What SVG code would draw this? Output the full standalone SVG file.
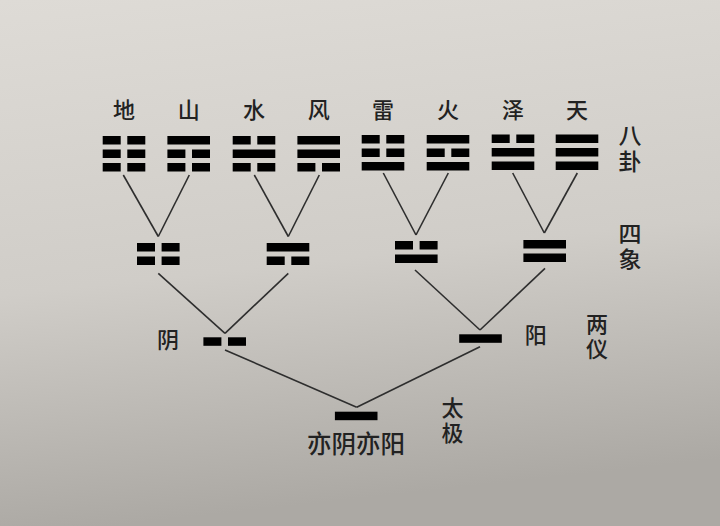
<svg xmlns="http://www.w3.org/2000/svg" width="720" height="526" viewBox="0 0 720 526">
<defs>
<linearGradient id="bg" x1="0" y1="0" x2="0.15" y2="1">
<stop offset="0" stop-color="#dedbd6"/>
<stop offset="0.55" stop-color="#d0cdc8"/>
<stop offset="1" stop-color="#aca9a4"/>
</linearGradient>
<g id="solid3"><rect x="-21.3" y="0" width="42.6" height="8.5"/></g>
<g id="broken3"><rect x="-21.3" y="0" width="18" height="8.5"/><rect x="3.3" y="0" width="18" height="8.5"/></g>
</defs>
<style>
.bar rect{fill:#1d1d1d}
.lbl{font-family:"Noto Sans CJK SC","Noto Sans CJK TC",sans-serif;font-weight:500;fill:#222;text-anchor:middle}
.t{font-size:22px}
.s{font-size:23px}
.v{writing-mode:vertical-rl;text-anchor:start;letter-spacing:3px}
.conn line{stroke:#2e2e2e;stroke-width:1.6;fill:none}
</style>
<rect width="720" height="526" fill="url(#bg)"/>

<g id="connectors" class="conn">
<line x1="123.3" y1="175" x2="158.3" y2="236.5"/>
<line x1="189.3" y1="175" x2="158.3" y2="236.5"/>
<line x1="254.3" y1="175" x2="288.3" y2="236.5"/>
<line x1="319.3" y1="175" x2="288.3" y2="236.5"/>
<line x1="383.3" y1="173" x2="416" y2="235"/>
<line x1="448.3" y1="173" x2="416" y2="235"/>
<line x1="512.7" y1="173" x2="544.3" y2="233"/>
<line x1="577.3" y1="173" x2="544.3" y2="233"/>
<line x1="158.3" y1="273.3" x2="225" y2="333.3"/>
<line x1="288.3" y1="273.3" x2="225" y2="333.3"/>
<line x1="415" y1="270" x2="480" y2="330"/>
<line x1="545" y1="268.3" x2="480" y2="330"/>
<line x1="225" y1="350" x2="356.7" y2="407.3"/>
<line x1="480" y1="346.7" x2="356.7" y2="407.3"/>
</g>

<g id="bagua-labels" class="lbl t">
<text x="124" y="118">地</text>
<text x="188.7" y="118">山</text>
<text x="254" y="118">水</text>
<text x="318.7" y="118">风</text>
<text x="383" y="118">雷</text>
<text x="448" y="118">火</text>
<text x="513" y="118">泽</text>
<text x="577" y="118">天</text>
</g>

<g id="di" class="bar" transform="translate(124,136)"><use href="#broken3"/><use href="#broken3" y="13.5"/><use href="#broken3" y="27"/></g>
<g id="shan" class="bar" transform="translate(188.7,136)"><use href="#solid3"/><use href="#broken3" y="13.5"/><use href="#broken3" y="27"/></g>
<g id="shui" class="bar" transform="translate(254,136)"><use href="#broken3"/><use href="#solid3" y="13.5"/><use href="#broken3" y="27"/></g>
<g id="feng" class="bar" transform="translate(318.7,136)"><use href="#solid3"/><use href="#solid3" y="13.5"/><use href="#broken3" y="27"/></g>
<g id="lei" class="bar" transform="translate(383,135)"><use href="#broken3"/><use href="#broken3" y="13.5"/><use href="#solid3" y="27"/></g>
<g id="huo" class="bar" transform="translate(448,135)"><use href="#solid3"/><use href="#broken3" y="13.5"/><use href="#solid3" y="27"/></g>
<g id="ze" class="bar" transform="translate(513,134.5)"><use href="#broken3"/><use href="#solid3" y="13.5"/><use href="#solid3" y="27"/></g>
<g id="tian" class="bar" transform="translate(577,134.5)"><use href="#solid3"/><use href="#solid3" y="13.5"/><use href="#solid3" y="27"/></g>

<g id="label-bagua" class="lbl s"><text class="v" x="630" y="124">八卦</text></g>

<g id="taiyin" class="bar" transform="translate(158.3,243)"><use href="#broken3"/><use href="#broken3" y="13.5"/></g>
<g id="shaoyang" class="bar" transform="translate(288,243)"><use href="#solid3"/><use href="#broken3" y="13.5"/></g>
<g id="shaoyin" class="bar" transform="translate(416.3,241)"><use href="#broken3"/><use href="#solid3" y="13.5"/></g>
<g id="taiyang" class="bar" transform="translate(544.7,240)"><use href="#solid3"/><use href="#solid3" y="13.5"/></g>

<g id="label-sixiang" class="lbl s"><text class="v" x="630" y="222">四象</text></g>

<g id="yin" class="bar" transform="translate(224.7,337.3)"><use href="#broken3"/></g>
<g id="yang" class="bar" transform="translate(480.5,334.3)"><use href="#solid3"/></g>
<g id="label-yin" class="lbl t"><text x="168" y="348">阴</text></g>
<g id="label-yang" class="lbl t"><text x="535.7" y="343">阳</text></g>
<g id="label-liangyi" class="lbl t"><text class="v" x="597" y="312.5">两仪</text></g>

<g id="taiji" class="bar" transform="translate(356.2,411.7)"><use href="#solid3"/></g>
<g id="label-yiyin" class="lbl"><text x="356" y="453" font-size="24.5">亦阴亦阳</text></g>
<g id="label-taiji" class="lbl t"><text class="v" x="452.5" y="397">太极</text></g>
</svg>
